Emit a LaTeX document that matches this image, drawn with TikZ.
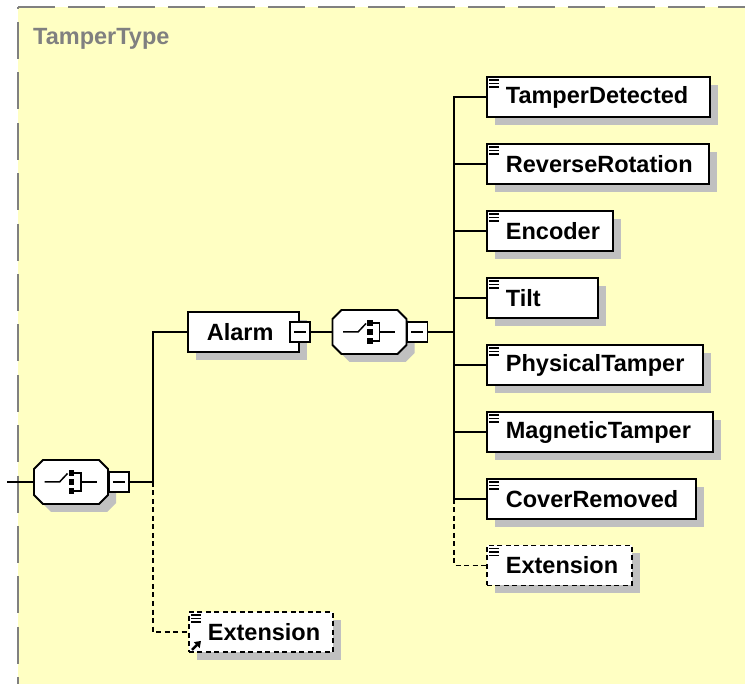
\documentclass[tikz,border=0pt]{standalone}
\usepackage{fontspec}
\setmainfont{Liberation Sans}
\usetikzlibrary{shadows,calc,arrows.meta}
\definecolor{bgyellow}{RGB}{255,255,195}
\definecolor{framegray}{RGB}{128,128,128}
\definecolor{shadowgray}{RGB}{192,192,192}
\newcommand\drawocto[1]{%
  \draw[octo] ([xshift=9pt]#1.north west) -- ([xshift=-9pt]#1.north east) --
    ([yshift=-9pt]#1.north east) -- ([yshift=9pt]#1.south east) --
    ([xshift=-9pt]#1.south east) -- ([xshift=9pt]#1.south west) --
    ([yshift=9pt]#1.south west) -- ([yshift=-9pt]#1.north west) -- cycle;}
\begin{document}
\begin{tikzpicture}[x=1pt,y=-1pt,
  shadowed/.style={drop shadow={shadow xshift=8pt,shadow yshift=-8pt,fill=shadowgray,opacity=1}},
  elem/.style={shape=rectangle,draw=black,fill=white,line width=1.8pt,
    minimum height=40pt,inner sep=0pt,text width=#1,align=left,anchor=west,
    font=\bfseries\fontsize{23.5}{28}\selectfont,
    execute at begin node={\hspace*{19pt}},shadowed},
  optelem/.style={elem=#1,dash pattern=on 5pt off 3.5pt},
  compnode/.style={shape=rectangle,minimum width=74pt,minimum height=44pt,
    inner sep=0pt,outer sep=0pt},
  octo/.style={draw=black,fill=white,line width=1.8pt,line join=miter,shadowed},
  minusbox/.style={shape=rectangle,draw=black,fill=white,line width=1.6pt,
    minimum width=20pt,minimum height=20pt,inner sep=0pt,
    path picture={\draw[line width=1.3pt]
      ([xshift=-6pt]path picture bounding box.center) --
      ([xshift=6pt]path picture bounding box.center);}},
  conn/.style={draw=black,line width=1.8pt},
  dconn/.style={conn,dash pattern=on 5pt off 3.5pt},
  seqsym/.pic={
    \draw[line width=1.5pt] (-26.5,0) -- (-11.5,0) -- (-3.5,-8.5);
    \fill (-2.25,-11.75) rectangle (3.25,-6.25);
    \fill (-2.25,-2.75) rectangle (3.25,2.75);
    \fill (-2.25,6.25) rectangle (3.25,11.75);
    \draw[line width=1.5pt] (3.25,-9) -- (10,-9) -- (10,9) -- (3.25,9);
    \draw[line width=1.5pt] (10,0) -- (25.5,0);
  }
]
\useasboundingbox (0,0) rectangle (745,684);
\begin{scope}
  \clip (0,0) rectangle (745,684);
  \fill[bgyellow] (18,7) rectangle (760,700);
  \draw[framegray,line width=1.8pt,dash pattern=on 37pt off 13pt] (18,7) -- (760,7);
  \draw[framegray,line width=1.8pt,dash pattern=on 37pt off 13.4pt,dash phase=35.4pt] (18,7) -- (18,700);
\end{scope}

\node[anchor=base west,inner sep=0pt,text=framegray,font=\bfseries\fontsize{23.5}{28}\selectfont] (title) at (33,45) {TamperType};

% outer sequence
\coordinate (start) at (7,482);
\node[compnode] (c1) at (71,482) {};
\drawocto{c1}
\pic at (c1.center) {seqsym};
\node[minusbox,anchor=west] (m1) at (c1.east) {};
\coordinate (j1) at (153,482);

% Alarm
\node[elem=111pt] (alarm) at (187,332) {Alarm};
\node[minusbox] (m2) at (alarm.east) {};

% inner sequence
\node[compnode] (c2) at (369.5,332) {};
\drawocto{c2}
\pic at (c2.center) {seqsym};
\node[minusbox,anchor=west] (m3) at (c2.east) {};
\coordinate (j2) at (454,332);

% children
\node[elem=223pt] (td) at (486,97) {TamperDetected};
\node[elem=222pt] (rr) at (486,164) {ReverseRotation};
\node[elem=126pt] (enc) at (486,231) {Encoder};
\node[elem=111pt] (tilt) at (486,298) {Tilt};
\node[elem=216pt] (pt) at (486,365) {PhysicalTamper};
\node[elem=226pt] (mt) at (486,432) {MagneticTamper};
\node[elem=209pt] (cr) at (486,499) {CoverRemoved};
\node[optelem=145pt] (ext2) at (486,565.5) {Extension};
\node[optelem=144pt] (ext1) at (188,632) {Extension};

% connectors
\draw[conn] (start) -- (c1.west);
\draw[conn] (m1.east) -- (j1) |- (alarm.west);
\draw[dconn] (j1) |- (ext1.west);
\draw[conn] (m2.east) -- (c2.west);
\draw[conn] (m3.east) -- (j2);
\foreach \n in {td,rr,enc,tilt,pt,mt,cr} \draw[conn] (j2) |- (\n.west);
\draw[dconn] (j2 |- cr.west) |- (ext2.west);

% icons
\foreach \n in {td,rr,enc,tilt,pt,mt,cr,ext2,ext1}
  \foreach \d in {4,7.5,11}
    \draw[line width=1.3pt] ([xshift=3pt,yshift=-\d pt]\n.north west) -- ++(10,0);
\draw[line width=2.6pt,-{Triangle[length=6pt,width=8pt]}] ([xshift=4pt,yshift=3pt]ext1.south west) -- ++(9,-9);
\end{tikzpicture}
\end{document}
